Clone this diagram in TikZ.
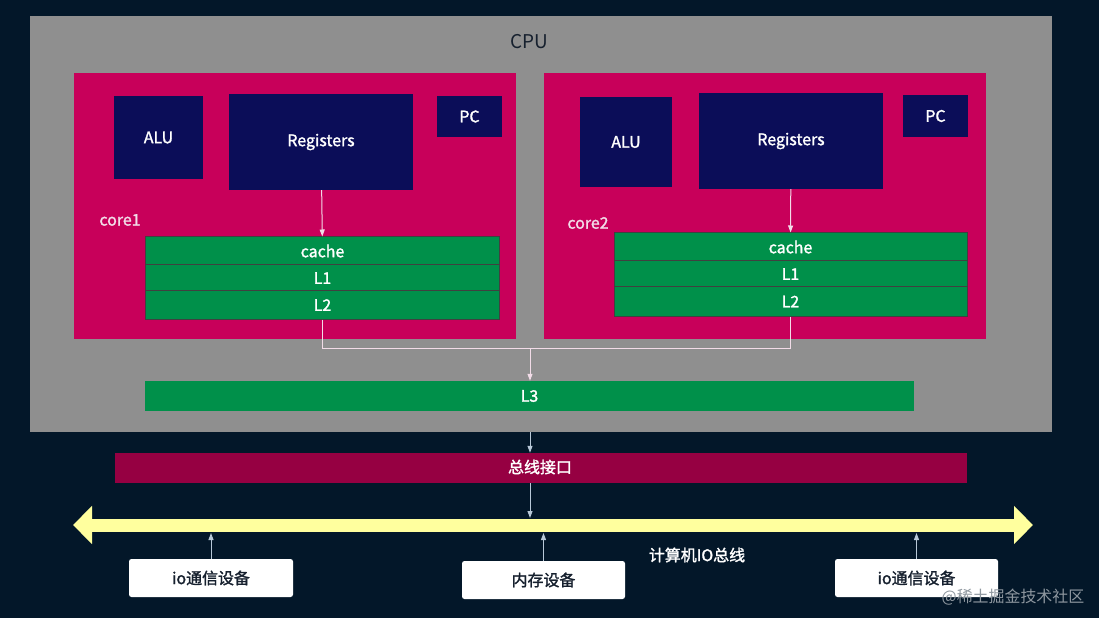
\documentclass[tikz,border=0pt]{standalone}
\usepackage{fontspec}
\setmainfont{Noto Sans CJK SC}[BoldFont={Noto Sans CJK SC}, BoldFeatures={FakeBold=1.6}]
\usepackage{tikz}
\usetikzlibrary{arrows.meta,positioning,calc}
\definecolor{night}   {HTML}{031729}
\definecolor{chip}    {HTML}{8F8F8F}
\definecolor{coreRed} {HTML}{C8005A}
\definecolor{unitBlue}{HTML}{0B0D58}
\definecolor{cacheGrn}{HTML}{00904A}
\definecolor{busRed}  {HTML}{960042}
\definecolor{busYel}  {HTML}{FFFF9E}
\definecolor{wire}    {HTML}{F2DCE8}
\definecolor{wireUp}  {HTML}{B8C8D8}
\definecolor{chipInk} {HTML}{16202E}

\begin{document}
\begin{tikzpicture}[
  x=1bp, y=-1bp,
  box/.style={rectangle, inner sep=0pt, font=\fontsize{16}{18}\selectfont\bfseries, text=white},
  unit/.style={box, fill=unitBlue},
  lvl/.style={box, fill=cacheGrn, draw=black!75, line width=1bp, minimum width=353bp},
  dev/.style={rectangle, rounded corners=2.5bp, fill=white, inner sep=0pt,
              minimum width=164bp, minimum height=38bp,
              font=\fontsize{16}{18}\selectfont\bfseries, text=chipInk},
  lab/.style={font=\fontsize{16}{18}\selectfont\bfseries, text=white, inner sep=0pt},
  >={Triangle[length=7bp,width=5bp]},
  arr/.style={->, wire, line width=1bp},
  lin/.style={wire, line width=1bp},
  uparr/.style={->, wireUp, line width=1bp}
]
\useasboundingbox (0,0) rectangle (1099,618);
\fill[night] (0,0) rectangle (1099,618);

\node[box, fill=chip, minimum width=1022bp, minimum height=416bp] (cpu) at (541,224) {};
\node[lab, text=chipInk, font=\fontsize{19}{21}\selectfont] (cpulab) at (529,42) {CPU};

\node[box, fill=coreRed, minimum width=442bp, minimum height=266bp] (core1) at (295,206) {};
\node[unit, minimum width=89bp, minimum height=83bp] (alu1) at (158.5,137.5) {ALU};
\node[unit, minimum width=184bp, minimum height=96bp] (reg1) at (321,142) {Registers};
\node[unit, minimum width=65bp, minimum height=41bp] (pc1) at (469.5,116.5) {PC};
\node[lab, text=wire] (core1lab) at (120,220) {core1};
\node[lvl, minimum height=28bp] (cache1) at (322.5,251) {cache};
\node[lvl, minimum height=26bp] (l1a) at (322.5,278) {L1};
\node[lvl, minimum height=28bp] (l2a) at (322.5,305) {L2};

\node[box, fill=coreRed, minimum width=442bp, minimum height=266bp] (core2) at (765,206) {};
\node[unit, minimum width=92bp, minimum height=90bp] (alu2) at (626,142) {ALU};
\node[unit, minimum width=184bp, minimum height=96bp] (reg2) at (791,141) {Registers};
\node[unit, minimum width=65bp, minimum height=42bp] (pc2) at (935.5,116) {PC};
\node[lab, text=wire] (core2lab) at (588,223) {core2};
\node[lvl, minimum height=28bp] (cache2) at (790.5,247) {cache};
\node[lvl, minimum height=26bp] (l1b) at (790.5,274) {L1};
\node[lvl, minimum height=29bp] (l2b) at (790.5,301.5) {L2};

\node[box, fill=cacheGrn, minimum width=769bp, minimum height=30bp] (l3) at (529.5,396) {L3};
\node[box, fill=busRed, minimum width=852bp, minimum height=30bp] (busif) at (541,468) {};
\node[lab] (busiflab) at (540,467) {总线接口};

\coordinate (busL) at (73,525);
\coordinate (busR) at (1033,525);
\coordinate (bustop) at (0,518);
\coordinate (busbot) at (0,533);
\coordinate (join) at (530,348);
\draw[busYel, line width=13bp,
      {Triangle[length=19bp,width=37bp]}-{Triangle[length=19bp,width=37bp]}] (busL) -- (busR);
\node[lab] (buslab) at (697,555) {计算机IO总线};

\node[dev] (io1) at (211,578) {io通信设备};
\node[dev, minimum width=163bp] (mem) at (543.5,580) {内存设备};
\node[dev, minimum width=163bp] (io2) at (916.5,578) {io通信设备};

\draw[arr] (reg1) -- (cache1);
\draw[arr] (reg2) -- (cache2);
\draw[lin] (l2a.south) |- (join);
\draw[lin] (l2b.south) |- (join);
\draw[arr] (join) -- (join |- l3.north);
\draw[uparr] (join |- cpu.south) -- (join |- busif.north);
\draw[uparr] (join |- busif.south) -- (join |- bustop);
\draw[uparr] (io1.north) -- (io1.north |- busbot);
\draw[uparr] (mem.north) -- (mem.north |- busbot);
\draw[uparr] (io2.north) -- (io2.north |- busbot);

\node[lab, text=white!55!night, font=\fontsize{16}{18}\selectfont] (mark) at (1013,597) {@稀土掘金技术社区};
\end{tikzpicture}
\end{document}
